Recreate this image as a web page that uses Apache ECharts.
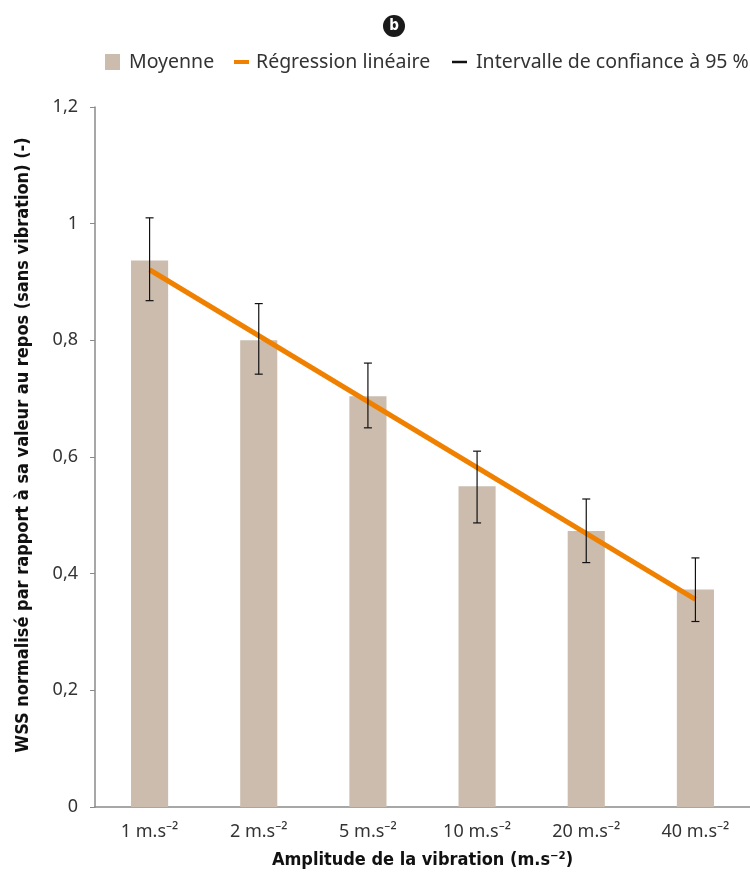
<!DOCTYPE html>
<html>
<head>
<meta charset="utf-8">
<script src="https://cdn.jsdelivr.net/npm/echarts@6/dist/echarts.min.js"></script>
<style>
  html, body { margin: 0; padding: 0; background: #fff; }
  #chart { width: 750px; height: 874px; }
</style>
</head>
<body>
<div id="chart"></div>
<script>
// Vibration amplitudes (categories)
const categories = ['1 m.s⁻²', '2 m.s⁻²', '5 m.s⁻²', '10 m.s⁻²', '20 m.s⁻²', '40 m.s⁻²'];
// Mean normalised WSS per amplitude
const meanValues = [0.937, 0.800, 0.704, 0.550, 0.473, 0.373];
// 95 % confidence interval bounds
const ciLow  = [0.868, 0.742, 0.650, 0.487, 0.419, 0.318];
const ciHigh = [1.010, 0.863, 0.761, 0.610, 0.528, 0.427];
// Linear regression: fitted values at the first and last amplitudes
const regression = [0.921, null, null, null, null, 0.356];
// Y axis ticks
const yTicks = [0, 0.2, 0.4, 0.6, 0.8, 1.0, 1.2];

const textFont = 'Noto Sans';
const boldFont = 'DejaVu Sans Condensed';
const textColor = '#333';
const yTitle = 'WSS normalisé par rapport à sa valeur au repos (sans vibration) (-)';

const chart = echarts.init(document.getElementById('chart'), null, { renderer: 'canvas' });

const ciData = categories.map((c, i) => [i, ciLow[i], ciHigh[i]]);

const legendText = { fontSize: 19.5, color: textColor, fontFamily: textFont };

chart.setOption({
  animation: false,
  backgroundColor: '#fff',
  textStyle: { fontFamily: textFont },
  grid: { left: 95, right: -5, top: 107, bottom: 66 },
  legend: [
    {
      data: ['Moyenne'], left: 105, top: 52, padding: 0,
      itemWidth: 15, itemHeight: 16, icon: 'rect',
      textStyle: Object.assign({ padding: [0, 0, 0, 4] }, legendText)
    },
    {
      data: ['Régression linéaire'], left: 234, top: 52, padding: 0,
      itemWidth: 15, itemHeight: 4, icon: 'rect',
      textStyle: Object.assign({ padding: [0, 0, 0, 2] }, legendText)
    },
    {
      data: ['Intervalle de confiance à 95 %'], left: 452, top: 52, padding: 0,
      itemWidth: 15, itemHeight: 2.5, icon: 'rect',
      textStyle: Object.assign({ padding: [0, 0, 0, 4] }, legendText)
    }
  ],
  graphic: [
    {
      type: 'circle', shape: { cx: 394, cy: 26, r: 11 },
      style: { fill: '#1a1a1a' }, silent: true
    },
    {
      type: 'text', x: 394, y: 26,
      style: {
        text: 'b', fill: '#fff', font: 'bold 15px "DejaVu Sans Condensed"',
        align: 'center', verticalAlign: 'middle'
      },
      silent: true
    },
    {
      // Y axis title, rotated to read bottom-to-top
      type: 'text', x: 23, y: 445, rotation: Math.PI / 2,
      style: {
        text: yTitle, fill: '#111',
        font: 'bold 18px "DejaVu Sans Condensed"',
        align: 'center', verticalAlign: 'middle'
      },
      silent: true
    }
  ],
  xAxis: {
    type: 'category',
    data: categories,
    axisLine: { lineStyle: { color: '#8a8a8a', width: 1.5 } },
    axisTick: { show: false },
    axisLabel: { fontSize: 18, color: textColor, margin: 16, fontFamily: textFont },
    name: 'Amplitude de la vibration (m.s⁻²)',
    nameLocation: 'middle',
    nameGap: 44,
    nameTextStyle: { fontSize: 18, fontWeight: 'bold', color: '#111', fontFamily: boldFont }
  },
  yAxis: {
    type: 'value',
    min: 0, max: 1.2, interval: 0.2,
    splitLine: { show: false },
    axisLine: { show: true, lineStyle: { color: '#8a8a8a', width: 1.5 } },
    axisTick: { show: true, length: 5, lineStyle: { color: '#8a8a8a' } },
    axisLabel: {
      fontSize: 18, color: textColor, margin: 17, fontFamily: textFont,
      formatter: v => {
        const t = yTicks.find(k => Math.abs(k - v) < 1e-6);
        return t === undefined ? '' : String(+t.toFixed(1)).replace('.', ',');
      }
    }
  },
  series: [
    {
      name: 'Moyenne',
      type: 'bar',
      data: meanValues,
      barWidth: '34%',
      itemStyle: { color: '#cbbcae' },
      z: 1
    },
    {
      name: 'Intervalle de confiance à 95 %',
      type: 'custom',
      itemStyle: { color: '#111' },
      data: ciData,
      encode: { x: 0, y: [1, 2] },
      z: 3,
      renderItem: (params, api) => {
        const x = api.value(0);
        const lo = api.coord([x, api.value(1)]);
        const hi = api.coord([x, api.value(2)]);
        const cap = 4;
        const style = { stroke: '#111', lineWidth: 1.2, fill: null };
        return {
          type: 'group',
          children: [
            { type: 'line', shape: { x1: lo[0], y1: lo[1], x2: hi[0], y2: hi[1] }, style },
            { type: 'line', shape: { x1: hi[0] - cap, y1: hi[1], x2: hi[0] + cap, y2: hi[1] }, style },
            { type: 'line', shape: { x1: lo[0] - cap, y1: lo[1], x2: lo[0] + cap, y2: lo[1] }, style }
          ]
        };
      }
    },
    {
      name: 'Régression linéaire',
      type: 'line',
      data: regression,
      connectNulls: true,
      showSymbol: false,
      symbol: 'none',
      lineStyle: { color: '#f08000', width: 5 },
      itemStyle: { color: '#f08000' },
      z: 2
    }
  ]
});
</script>
</body>
</html>
